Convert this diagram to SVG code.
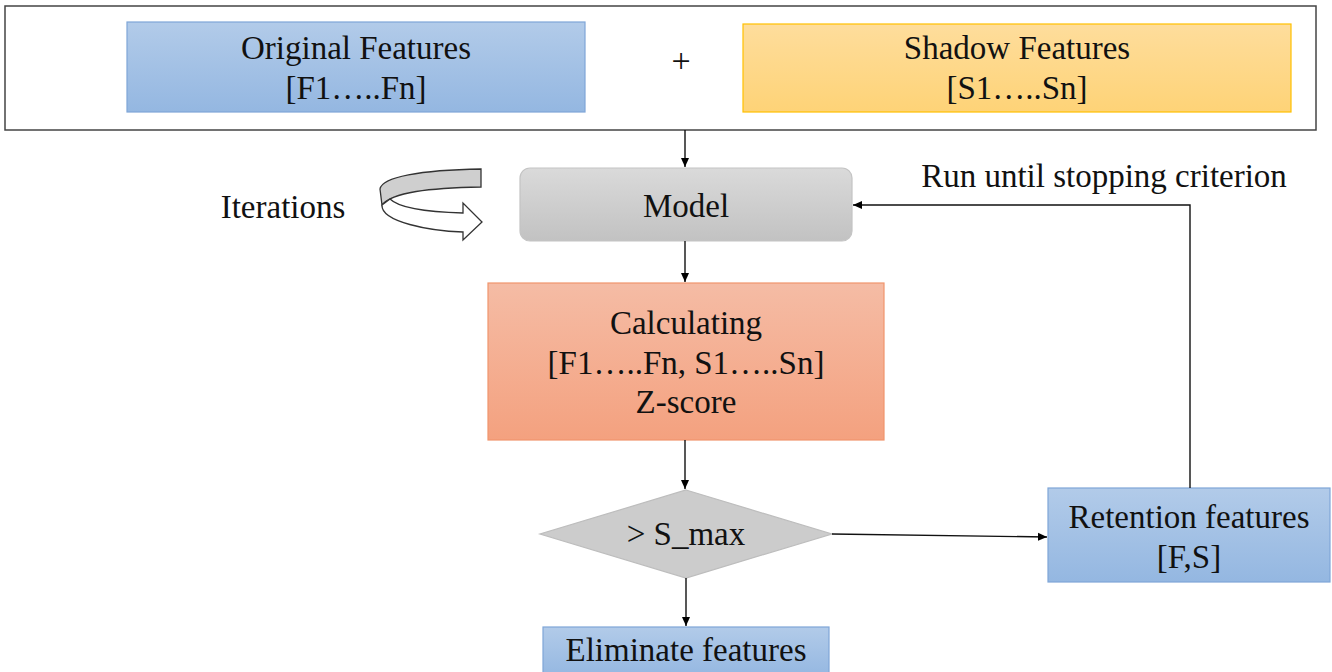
<svg xmlns="http://www.w3.org/2000/svg" width="1332" height="672" viewBox="0 0 1332 672">
  <defs>
    <linearGradient id="gBlue" x1="0" y1="0" x2="0" y2="1">
      <stop offset="0" stop-color="#b2cbe9"/>
      <stop offset="1" stop-color="#94b7e1"/>
    </linearGradient>
    <linearGradient id="gGold" x1="0" y1="0" x2="0" y2="1">
      <stop offset="0" stop-color="#fedd9c"/>
      <stop offset="1" stop-color="#fed377"/>
    </linearGradient>
    <linearGradient id="gSalmon" x1="0" y1="0" x2="0" y2="1">
      <stop offset="0" stop-color="#f5bca5"/>
      <stop offset="1" stop-color="#f4a17f"/>
    </linearGradient>
    <linearGradient id="gGray" x1="0" y1="0" x2="0" y2="1">
      <stop offset="0" stop-color="#dadada"/>
      <stop offset="1" stop-color="#c2c2c2"/>
    </linearGradient>
    <marker id="arrow" markerWidth="10" markerHeight="10" refX="9" refY="5" orient="auto" markerUnits="userSpaceOnUse">
      <path d="M0,1 L9,5 L0,9 Z" fill="#000"/>
    </marker>
  </defs>
  <style>
    text { font-family: "Liberation Serif", "Times New Roman", serif; font-size: 33px; fill: #111; text-anchor: middle; }
    .blue { fill: url(#gBlue); stroke: #7fa6d8; stroke-width: 1.2; }
    .gold { fill: url(#gGold); stroke: #ffc000; stroke-width: 1.2; }
    .salmon { fill: url(#gSalmon); stroke: #f0956d; stroke-width: 1.2; }
    .gray { fill: url(#gGray); stroke: #c4c4c4; stroke-width: 1.2; }
    .conn { fill: none; stroke: #111; stroke-width: 1.4; }
  </style>

  <!-- input frame -->
  <g id="inputs">
    <rect x="5" y="6" width="1311" height="124" fill="#fff" stroke="#444" stroke-width="1.5"/>
    <text x="681" y="72" style="font-size:34px">+</text>
  </g>

  <g id="original">
    <rect class="blue" x="127" y="22" width="458" height="90"/>
    <text x="356" y="59">Original Features</text>
    <text x="356" y="99">[F1…..Fn]</text>
  </g>

  <g id="shadow">
    <rect class="gold" x="743" y="24" width="548" height="88"/>
    <text x="1017" y="59">Shadow Features</text>
    <text x="1017" y="99">[S1…..Sn]</text>
  </g>

  <!-- loop symbol beside the model -->
  <g id="iterations">
    <path d="M481,169 L481,187 C430,188 392,192 382,205 L380,189 C382,177 420,170 481,169 Z" fill="#cfcfcf" stroke="#333" stroke-width="1.3"/>
    <path d="M382,205 C381,222 430,231 463,232 L463,240 L482,222 L463,203 L463,213 C425,212 398,207 390,199 Z" fill="#fff" stroke="#333" stroke-width="1.3"/>
    <text x="283" y="218">Iterations</text>
  </g>

  <g id="model">
    <rect class="gray" x="520" y="168" width="332" height="73" rx="10"/>
    <text x="686" y="217">Model</text>
  </g>

  <g id="criterion">
    <text x="1104" y="187">Run until stopping criterion</text>
  </g>

  <g id="calculating">
    <rect class="salmon" x="488" y="283" width="396" height="157"/>
    <text x="686" y="334">Calculating</text>
    <text x="686" y="374">[F1…..Fn, S1…..Sn]</text>
    <text x="686" y="413">Z-score</text>
  </g>

  <g id="decision">
    <polygon points="686,490 832,534 686,578 540,534" fill="#cccccc" stroke="#bdbdbd" stroke-width="1.2"/>
    <text x="686" y="545">&gt; S_max</text>
  </g>

  <g id="retention">
    <rect class="blue" x="1048" y="488" width="282" height="94"/>
    <text x="1189" y="528">Retention features</text>
    <text x="1189" y="568">[F,S]</text>
  </g>

  <g id="eliminate">
    <rect class="blue" x="543" y="627" width="286" height="50"/>
    <text x="686" y="661">Eliminate features</text>
  </g>

  <!-- connectors -->
  <g id="connectors">
    <line class="conn" x1="685" y1="130" x2="685" y2="167" marker-end="url(#arrow)"/>
    <line class="conn" x1="685" y1="241" x2="685" y2="282" marker-end="url(#arrow)"/>
    <line class="conn" x1="685" y1="440" x2="685" y2="489" marker-end="url(#arrow)"/>
    <line class="conn" x1="686" y1="578" x2="686" y2="626" marker-end="url(#arrow)"/>
    <line class="conn" x1="832" y1="534" x2="1047" y2="537" marker-end="url(#arrow)"/>
    <polyline class="conn" points="1190,488 1190,205 853,205" marker-end="url(#arrow)"/>
  </g>
</svg>
